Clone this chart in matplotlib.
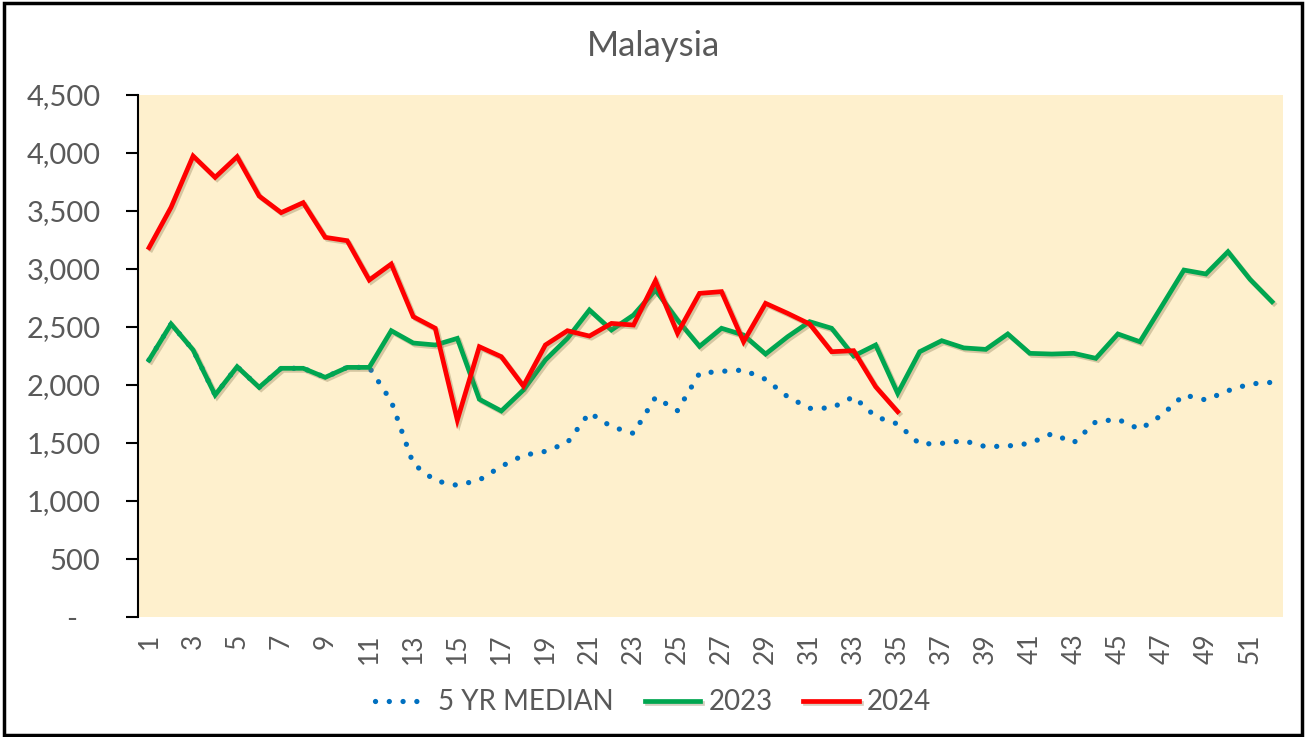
# Malaysia weekly chart: 5 yr median vs 2023 vs 2024

import matplotlib.pyplot as plt
import matplotlib.patheffects as pe
from matplotlib.patches import Rectangle

# ==========================================================
# DATA
# ==========================================================

weeks = list(range(1, 53))

median_5yr = [2216, 2526, 2302, 1914, 2158, 1980, 2144, 2144, 2066, 2152,
              2152, 1860, 1320, 1175, 1135, 1181, 1299, 1394, 1428, 1503,
              1761, 1641, 1583, 1894, 1779, 2101, 2118, 2129, 2049, 1899,
              1799, 1802, 1899, 1727, 1664, 1491, 1497, 1520, 1468, 1474,
              1497, 1580, 1503, 1684, 1704, 1618, 1741, 1914, 1871, 1951,
              2009, 2023]

y2023 = [2216, 2526, 2302, 1914, 2158, 1980, 2144, 2144, 2066, 2152,
         2152, 2468, 2362, 2345, 2402, 1877, 1776, 1957, 2216, 2402,
         2647, 2474, 2603, 2819, 2560, 2333, 2489, 2431, 2267, 2416,
         2546, 2489, 2250, 2345, 1928, 2287, 2382, 2320, 2307, 2440,
         2273, 2267, 2273, 2230, 2440, 2373, 2681, 2991, 2957, 3149,
         2911, 2718]

weeks_2024 = list(range(1, 36))
y2024 = [3184, 3532, 3974, 3790, 3968, 3629, 3486, 3572, 3273, 3244,
         2905, 3043, 2589, 2489, 1698, 2330, 2244, 1991, 2345, 2468,
         2422, 2531, 2517, 2899, 2446, 2790, 2805, 2373, 2704, 2618,
         2526, 2287, 2296, 1985, 1770]

yticks = [0, 500, 1000, 1500, 2000, 2500, 3000, 3500, 4000, 4500]
ytick_labels = ["-   " if v == 0 else f"{v:,}" for v in yticks]
xticks = weeks[::2]

# ==========================================================
# FIGURE
# ==========================================================

plt.rcParams["font.family"] = ["Lato", "DejaVu Sans"]
grey = "#595959"

fig = plt.figure(figsize=(13.06, 7.37), dpi=100)
fig.patches.append(Rectangle((0.003, 0.003), 0.994, 0.993, transform=fig.transFigure,
                             fill=False, edgecolor="black", linewidth=2.5))

ax = fig.add_axes([0.1057, 0.1628, 0.8767, 0.7083])
ax.set_facecolor("#FEF0CD")

shadow = [pe.SimpleLineShadow(offset=(1.5, -1.5), shadow_color="#8a7a50", alpha=0.35), pe.Normal()]

ax.plot(weeks, median_5yr, color="#0070C0", linewidth=3.8,
        linestyle=(0, (0.01, 2.6)), dash_capstyle="round",
        label="5 YR MEDIAN", zorder=2)
ax.plot(weeks, y2023, color="#00A650", linewidth=3.4, solid_joinstyle="miter",
        path_effects=shadow, label="2023", zorder=3)
ax.plot(weeks_2024, y2024, color="#FF0000", linewidth=3.4, solid_joinstyle="miter",
        path_effects=shadow, label="2024", zorder=4)

ax.set_xlim(0.5, 52.5)
ax.set_ylim(0, 4500)

ax.set_yticks(yticks)
ax.set_yticklabels(ytick_labels)
ax.set_xticks(xticks)
ax.set_xticklabels([str(w) for w in xticks], rotation=90)

ax.tick_params(axis="y", direction="out", length=9, width=1.5, color="black",
               labelsize=21, labelcolor=grey, pad=18)
ax.tick_params(axis="x", length=0, labelsize=19, labelcolor=grey, pad=12)

for side in ["top", "right", "bottom"]:
    ax.spines[side].set_visible(False)
ax.spines["left"].set_linewidth(1.5)

fig.text(0.5, 0.938, "Malaysia", ha="center", va="center", fontsize=25, color=grey)

fig.legend(loc="center", bbox_to_anchor=(0.5, 0.047), ncol=3, frameon=False,
           fontsize=20, labelcolor=grey, handlelength=2.0, handletextpad=0.3,
           columnspacing=1.1)

fig.savefig("out.png", dpi=100)
